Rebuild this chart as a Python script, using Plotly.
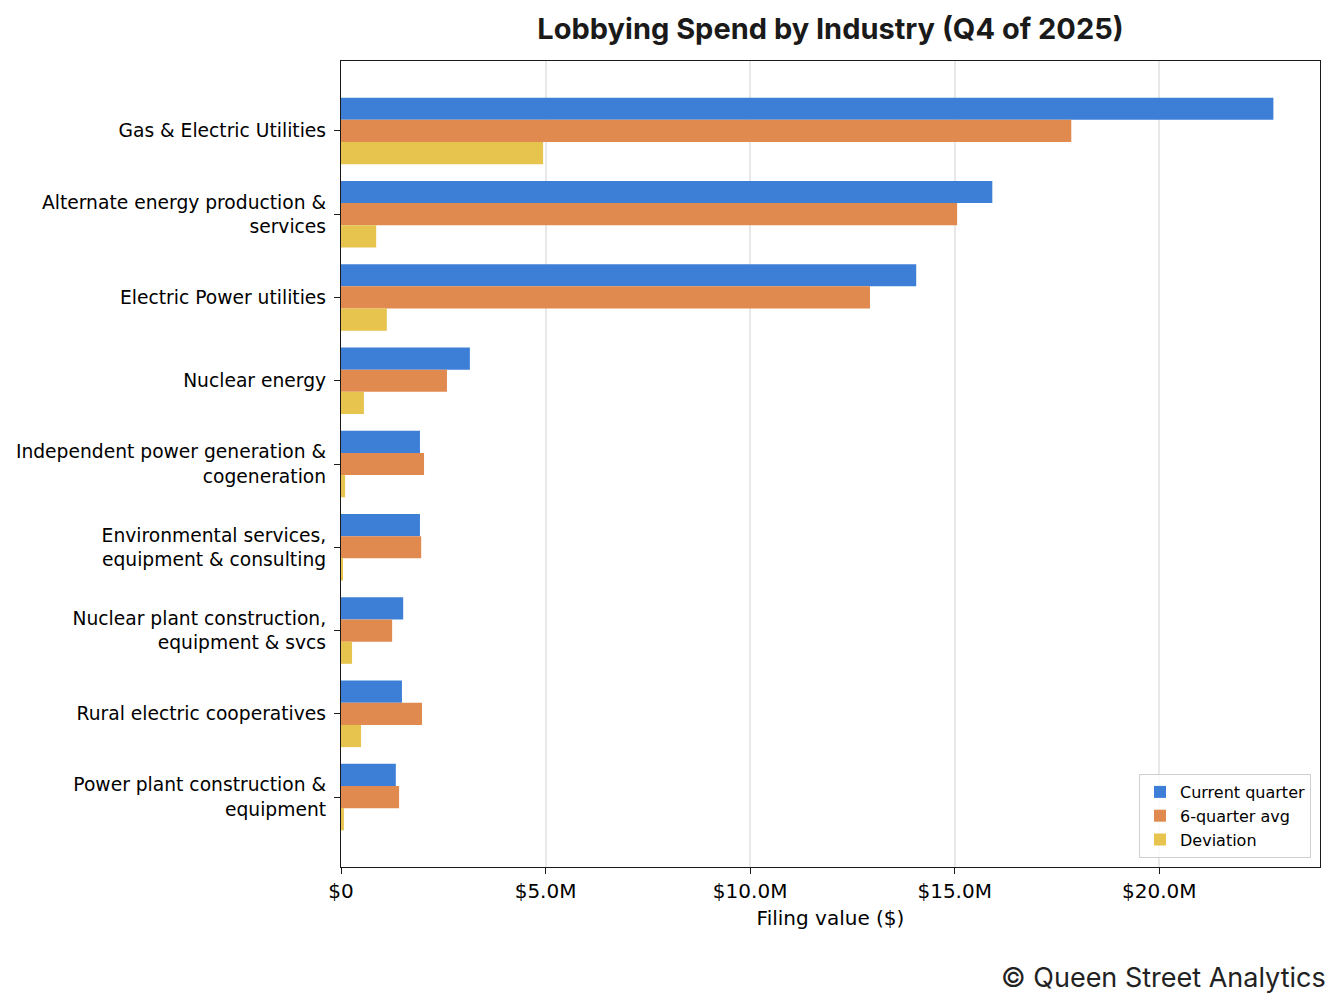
import plotly.graph_objects as go

categories = [
    "Gas & Electric Utilities",
    "Alternate energy production &<br>services",
    "Electric Power utilities",
    "Nuclear energy",
    "Independent power generation &<br>cogeneration",
    "Environmental services,<br>equipment & consulting",
    "Nuclear plant construction,<br>equipment & svcs",
    "Rural electric cooperatives",
    "Power plant construction &<br>equipment",
]
current_quarter = [22.79, 15.92, 14.06, 3.15, 1.93, 1.93, 1.52, 1.49, 1.34]
six_quarter_avg = [17.85, 15.06, 12.93, 2.59, 2.03, 1.96, 1.25, 1.98, 1.42]
deviation = [4.94, 0.86, 1.12, 0.56, 0.10, 0.03, 0.27, 0.49, 0.07]
x_tick_vals = [0, 5, 10, 15, 20]
x_tick_text = ["$0", "$5.0M", "$10.0M", "$15.0M", "$20.0M"]

series = [
    ("Current quarter", current_quarter, "#3d7fd7"),
    ("6-quarter avg", six_quarter_avg, "#e08a50"),
    ("Deviation", deviation, "#e6c44d"),
]

fig = go.Figure()
for name, vals, color in series:
    fig.add_trace(go.Bar(
        y=categories, x=vals, name=name, orientation="h",
        marker=dict(color=color, line=dict(width=0)),
    ))

# page body has an 8px margin; figure coordinates are page coordinates minus 8
W, H = 1336, 1000
L, R, T, B = 333, 1312, 53, 859
pw, ph = R - L, B - T

xmax = max(current_quarter) * 1.05
n = len(categories)
fig.update_layout(
    width=W, height=H,
    paper_bgcolor="white", plot_bgcolor="white",
    margin=dict(l=L, r=W - R, t=T, b=H - B, autoexpand=False),
    barmode="group", bargap=0.2, bargroupgap=0,
    font=dict(family="DejaVu Sans", size=18.7, color="#000000"),
    title=dict(
        text="<b>Lobbying Spend by Industry (Q4 of 2025)</b>",
        font=dict(family="Inter", size=29, color="#1a1a1a"),
        x=(L + R) / 2 / W, xanchor="center",
        y=1 - 21 / H, yanchor="middle",
    ),
    legend=dict(
        x=1 - 9 / pw, y=9 / ph, xanchor="right", yanchor="bottom",
        bgcolor="rgba(255,255,255,0.8)", bordercolor="#d0d0d0", borderwidth=1,
        font=dict(family="DejaVu Sans", size=16), traceorder="normal",
        tracegroupgap=0,
    ),
    xaxis=dict(
        range=[0, xmax], tickvals=x_tick_vals, ticktext=x_tick_text,
        tickfont=dict(size=20), automargin=False,
        showgrid=True, gridcolor="rgba(0,0,0,0.09)", gridwidth=1.5,
        showline=True, linecolor="#1a1a1a", linewidth=1.3, mirror=True,
        ticks="outside", ticklen=6, tickwidth=1.3, tickcolor="#1a1a1a",
        zeroline=False, layer="above traces",
        title=dict(text="Filing value ($)", font=dict(size=20), standoff=8),
    ),
    yaxis=dict(
        range=[n - 1 + 0.84, -0.84], automargin=False,
        tickfont=dict(size=18.7), ticklabelstandoff=4,
        showgrid=False, showline=True, linecolor="#1a1a1a", linewidth=1.3, mirror=True,
        ticks="outside", ticklen=6, tickwidth=1.3, tickcolor="#1a1a1a",
        zeroline=False,
    ),
)

fig.add_annotation(
    text="© Queen Street Analytics", xref="paper", yref="paper",
    x=(1320 - L) / pw, y=-(970 - B) / ph, xanchor="right", yanchor="middle",
    showarrow=False, font=dict(family="Inter", size=27, color="#222222"),
)

fig.write_html("out.html")
